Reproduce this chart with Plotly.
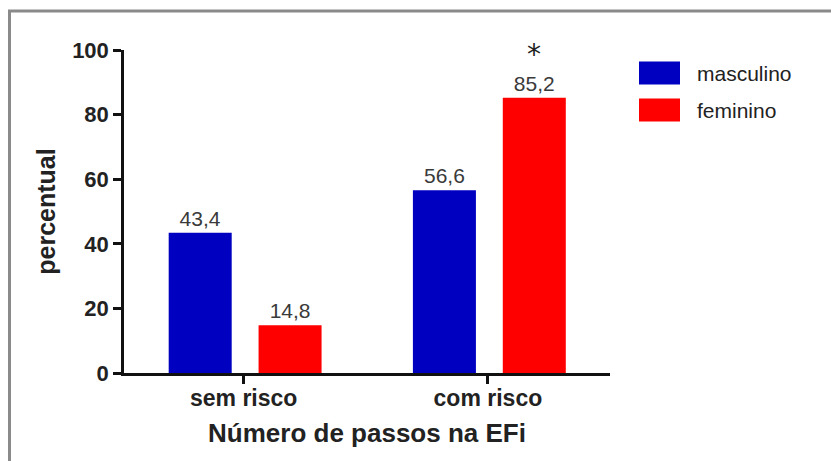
import plotly.graph_objects as go

categories = ["sem risco", "com risco"]
series_names = ["masculino", "feminino"]
masculino = [43.4, 56.6]
feminino = [14.8, 85.2]
y_ticks = [0, 20, 40, 60, 80, 100]
colors = ["#0000C0", "#FF0000"]

def fmt(v):
    return f"{v:.1f}".replace(".", ",")

W, H = 831, 461
L, R, T, B = 124, 221, 50, 88
pw = W - L - R
ph = H - T - B

def px(xp):
    return (xp - L) / pw

def py(yp):
    return (H - B - yp) / ph

FONT = "Liberation Sans, Arial"
xvals = [0, 1]
width = 0.258
offsets = [-0.307, 0.061]

fig = go.Figure()
for name, vals, col, off in zip(series_names, [masculino, feminino], colors, offsets):
    fig.add_trace(go.Bar(
        x=xvals, y=vals, name=name, width=width, offset=off,
        marker=dict(color=col, line=dict(width=0)),
        text=[fmt(v) for v in vals], textposition="outside",
        textfont=dict(family=FONT, size=21, color="#3a3a3a"),
        cliponaxis=False, showlegend=False,
    ))

fig.add_annotation(x=1 + offsets[1] + width / 2, y=100, text="*", showarrow=False,
                   xref="x", yref="y", yanchor="middle", yshift=-4,
                   font=dict(family="DejaVu Sans", size=28, color="#222"))

# legend drawn as shapes + text
leg_rows = [73, 110]
for name, col, yc in zip(series_names, colors, leg_rows):
    fig.add_shape(type="rect", xref="paper", yref="paper",
                  x0=px(639), x1=px(680), y0=py(yc - 11.5), y1=py(yc + 11.5),
                  fillcolor=col, line=dict(width=0), layer="above")
    fig.add_annotation(xref="paper", yref="paper", x=px(695), y=py(yc), text=name,
                       showarrow=False, xanchor="left", yanchor="middle",
                       font=dict(family=FONT, size=21, color="#222"))

# outer frame
fig.add_shape(type="path", xref="paper", yref="paper",
              path=f"M {px(9.5)} {py(470)} L {px(9.5)} {py(11)} L {px(840)} {py(11)}",
              line=dict(color="#8a8a8a", width=3), layer="above")

fig.update_layout(
    width=W, height=H,
    margin=dict(l=L, r=R, t=T, b=B),
    plot_bgcolor="white", paper_bgcolor="white",
    showlegend=False,
    xaxis=dict(range=[-0.49, 1.5], tickvals=xvals, ticktext=categories,
               showline=True, linecolor="#111", linewidth=2.5,
               ticks="outside", ticklen=8, tickwidth=2.5, tickcolor="#111",
               ticklabelstandoff=-5,
               showgrid=False, zeroline=False,
               tickfont=dict(family=FONT, size=23, color="#222", weight="bold"),
               title=dict(text="Número de passos na EFi", standoff=14,
                          font=dict(family=FONT, size=26, color="#222", weight="bold"))),
    yaxis=dict(range=[0, 100], tickvals=y_ticks,
               showline=True, linecolor="#111", linewidth=2.5,
               ticks="outside", ticklen=8, tickwidth=2.5, tickcolor="#111",
               showgrid=False, zeroline=False,
               tickfont=dict(family=FONT, size=22, color="#222", weight="bold"),
               title=dict(text="percentual", standoff=10,
                          font=dict(family=FONT, size=25, color="#222", weight="bold"))),
)

fig.write_html("out.html")
